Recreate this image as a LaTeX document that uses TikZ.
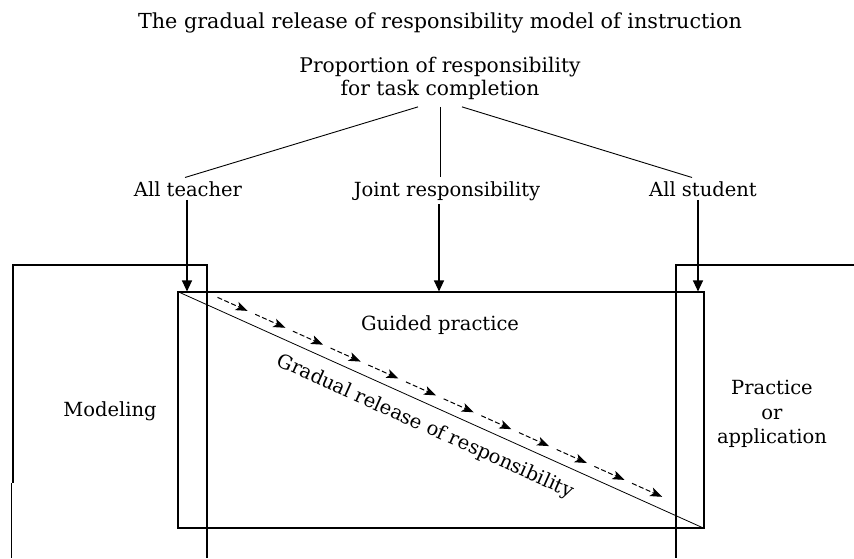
\documentclass[tikz,border=0pt]{standalone}
\usepackage{fontspec}
\setmainfont{DejaVu Serif}
\usetikzlibrary{arrows.meta}
\tikzstyle{txt}=[inner sep=3.5pt,font=\fontsize{19.5pt}{23pt}\selectfont]
\tikzstyle{phase}=[rectangle,draw=black,line width=1.1pt,inner sep=0pt]
\tikzstyle{edge}=[line width=0.9pt]
\tikzstyle{arr}=[-{Triangle[length=11pt,width=10pt]},line width=1.1pt]
\tikzstyle{flow}=[-{Stealth[length=12pt,width=9pt,inset=3pt]},line width=1pt,dash pattern=on 5pt off 2.5pt]

\begin{document}
\begin{tikzpicture}[x=1pt,y=-1pt]
    \useasboundingbox (0,0) rectangle (854,558);

    % Texte
    \node[txt, anchor=base, font=\fontsize{20.7pt}{24pt}\selectfont] (title) at (440,28) {The gradual release of responsibility model of instruction};
    \node[txt, align=center, inner sep=7pt, font=\fontsize{20.2pt}{23pt}\selectfont] (prop) at (440,78.4) {Proportion of responsibility\\for task completion};
    \node[txt, anchor=base] (teacher) at (188,196) {All teacher};
    \node[txt, anchor=base] (joint) at (447,196) {Joint responsibility};
    \node[txt, anchor=base] (student) at (703,196) {All student};

    % Phasen
    \draw[line width=1.1pt] (13,483) -- (13,265) -- (207,265) -- (207,558);
    \draw[line width=1.1pt] (11.5,483) -- (11.5,558);
    \draw[line width=1.1pt] (854,265) -- (676,265) -- (676,558);
    \node[phase, minimum width=526pt, minimum height=236pt] (guide) at (441,410) {};
    \node[txt, anchor=base] (guided) at (440,330) {Guided practice};
    \node[txt, anchor=base] (modeling) at (110,416) {Modeling};
    \node[txt, align=center, font=\fontsize{19.5pt}{24.5pt}\selectfont] (practice) at (772,414) {Practice\\or\\application};

    % Verbindungen
    \draw[edge] ([xshift=-22pt]prop.south) -- ([xshift=-3pt]teacher.north);
    \draw[edge] (prop.south) -- (prop.south |- joint.north);
    \draw[edge] ([xshift=22pt]prop.south) -- ([xshift=-11pt]student.north);
    \draw[arr] ([xshift=-1pt]teacher.south) -- ([xshift=-1pt]teacher.south |- guide.north);
    \draw[arr] ([xshift=-8pt]joint.south) -- ([xshift=-8pt]joint.south |- guide.north);
    \draw[arr] ([xshift=-5pt]student.south) -- ([xshift=-5pt]student.south |- guide.north);

    % Diagonale
    \draw[line width=0.8pt] (guide.north west) -- node[txt, sloped, below=10pt, inner sep=2pt, pos=0.487] {Gradual release of responsibility} (guide.south east);
    \begin{scope}[shift={(guide.north west)}, rotate=-24.16]
      \foreach \i in {0,...,11}
        \draw[flow] ({39pt+\i*41.3pt},11pt) -- ({72pt+\i*41.3pt},11pt);
    \end{scope}

\end{tikzpicture}
\end{document}
